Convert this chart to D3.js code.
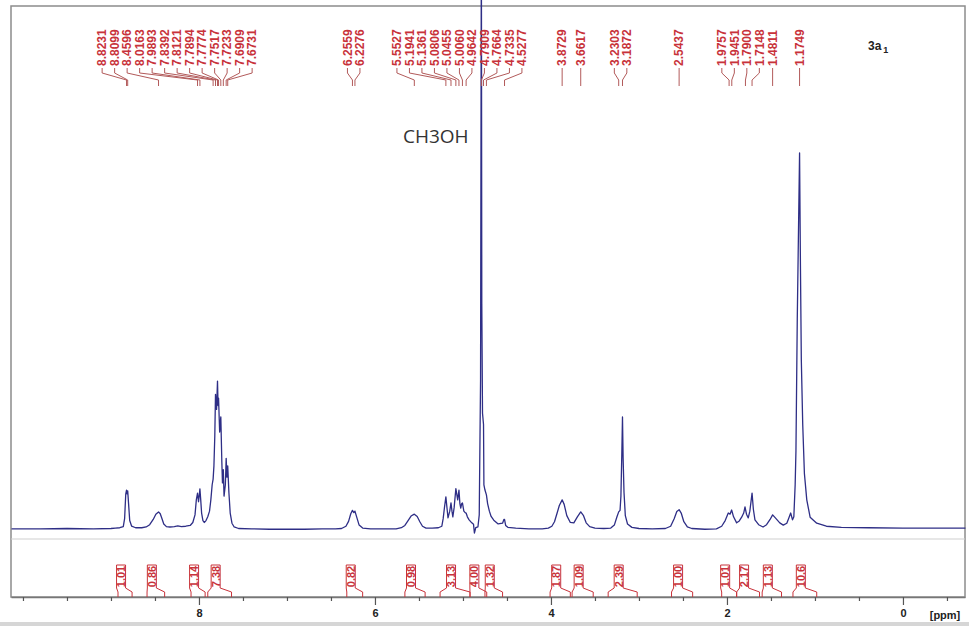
<!DOCTYPE html>
<html><head><meta charset="utf-8">
<script src="https://cdn.jsdelivr.net/npm/d3@7"></script>
<style>body{margin:0;background:#fff}svg{display:block}</style>
</head><body>
<svg id="c" width="969" height="626"></svg>
<script>
// ---- data ----
const shifts = [10.13,9.80,9.50,9.20,9.00,8.95,8.90,8.86,8.845,8.832,8.8231,8.816,8.8099,8.80,8.787,8.765,8.72,8.65,8.60,8.56,8.52,8.49,8.4596,8.44,8.42,8.40,8.37,8.33,8.28,8.24,8.20,8.15,8.10,8.07,8.045,8.03,8.0163,8.005,7.995,7.9893,7.98,7.97,7.955,7.94,7.92,7.90,7.88,7.865,7.85,7.8392,7.83,7.82,7.8121,7.80,7.7894,7.783,7.7774,7.765,7.7517,7.74,7.733,7.7233,7.715,7.70,7.6909,7.682,7.6731,7.66,7.645,7.625,7.60,7.55,7.40,7.20,7.00,6.80,6.60,6.45,6.38,6.33,6.30,6.275,6.2559,6.24,6.2276,6.21,6.18,6.14,6.05,5.90,5.76,5.70,5.66,5.62,5.59,5.5527,5.52,5.49,5.46,5.42,5.35,5.28,5.24,5.225,5.21,5.1941,5.18,5.17,5.15,5.1361,5.125,5.115,5.10,5.0806,5.06,5.0455,5.035,5.025,5.015,5.0060,4.99,4.975,4.9642,4.95,4.93,4.90,4.88,4.87,4.855,4.83,4.815,4.80,4.7909,4.786,4.778,4.7664,4.762,4.75,4.7335,4.72,4.70,4.68,4.65,4.60,4.55,4.535,4.5277,4.515,4.49,4.40,4.25,4.10,4.03,3.99,3.96,3.93,3.905,3.8729,3.85,3.82,3.78,3.74,3.70,3.6617,3.63,3.60,3.56,3.50,3.40,3.32,3.28,3.25,3.2303,3.215,3.205,3.195,3.1872,3.18,3.17,3.155,3.13,3.08,3.00,2.85,2.70,2.64,2.60,2.57,2.5437,2.52,2.49,2.45,2.40,2.25,2.12,2.06,2.02,1.985,1.965,1.947,1.925,1.89,1.86,1.833,1.81,1.795,1.778,1.758,1.74,1.7148,1.70,1.682,1.64,1.59,1.55,1.51,1.4811,1.45,1.40,1.36,1.32,1.30,1.276,1.255,1.24,1.225,1.216,1.201,1.1749,1.165,1.155,1.139,1.12,1.093,1.055,0.98,0.87,0.70,0.40,0.00,-0.40,-0.71];
const intensity = [0.3,0.3,0.4,0.3,0.4,0.5,0.6,0.9,3,9.5,10.6,9.6,10.4,7,2.5,1.0,0.6,0.6,0.8,1.4,2.8,4.2,4.8,4.3,3,1.6,0.9,0.8,0.9,1.1,0.9,1.0,1.2,2.0,4,8,9.8,7.5,9.5,10.9,8,4.5,2.5,2.0,2.5,3.5,5,8,12,13.5,17,25,36,32,39.5,33,35,26,30,18,12.5,16,9,12,19,14,17,10,4.5,1.8,0.8,0.4,0.3,0.2,0.2,0.2,0.3,0.3,0.4,1.0,2.3,4.3,5.2,4.6,5.0,3.6,1.3,0.5,0.3,0.3,0.3,0.6,1.2,2.6,3.7,4.2,3.6,2.2,1.0,0.5,0.5,0.6,1.0,3,6,8.8,5.5,3.2,5,7.2,5,3.5,6,11,8,10.6,7,5.8,7,7.2,5,4.6,4.5,3.5,2.7,1.9,1.5,-0.8,0.6,0.8,4,40,160,60,31,28,12,10.6,9.3,7,5,3.6,2.6,1.6,1.8,2.8,2.8,1.2,0.7,0.5,0.3,0.3,0.5,1.0,2.2,4.5,6.5,8,6.8,3.8,2.0,1.9,3.5,4.8,3.8,1.9,0.9,0.5,0.4,0.5,1.3,3.5,4.8,5.2,9,20,30,19,10,3.8,1.6,0.7,0.4,0.3,0.4,1.0,3.0,4.9,5.4,4.5,2.2,0.8,0.4,0.2,0.3,1.0,2.5,4.5,4.2,5.3,3.5,1.9,2.4,3.4,4.5,6.1,4.2,3.2,5,9.8,5.5,2.7,1.4,0.8,1.4,2.8,4.0,3.2,1.9,1.3,1.8,3.0,4.5,2.7,3.5,12,21,56,100,70,45,28,15,8,3.4,1.8,1.0,0.7,0.6,0.5,0.5,0.5];

const peakLabels = [8.8231,8.8099,8.4596,8.0163,7.9893,7.8392,7.8121,7.7894,7.7774,7.7517,7.7233,7.6909,7.6731,6.2559,6.2276,5.5527,5.1941,5.1361,5.0806,5.0455,5.0060,4.9642,4.7909,4.7664,4.7335,4.5277,3.8729,3.6617,3.2303,3.1872,2.5437,1.9757,1.9451,1.7900,1.7148,1.4811,1.1749];

const integralValues = ["1.01","0.86","1.14","7.38","0.82","0.98","3.13","4.00","1.32","1.87","1.09","2.39","1.00","1.01","2.17","1.13","10.6"];
const integralFrom = [8.92,8.59,8.09,7.90,6.32,5.66,5.26,4.92,4.75,4.01,3.76,3.35,2.63,2.06,1.89,1.60,1.25];
const integralTo   = [8.76,8.39,7.93,7.63,6.14,5.43,4.92,4.73,4.55,3.78,3.52,3.02,2.39,1.89,1.63,1.38,0.98];

const minorTicks = d3.range(20, -2, -1).map(v => v / 2);
const majorTicks = [8, 6, 4, 2, 0];

const sampleName = "3a";
const sampleSub = "1";
const solventNote = "CH3OH";

// ---- drawing ----
const svg = d3.select("#c");
const red = "#c8323a";
const leader = "#b25a5a";
const X0 = 11, X1 = 965, YT = 6, YAXIS = 597, YBASE = 530;

const x = d3.scaleLinear().domain([10.136, -0.705]).range([X0, X1]);
const y = d3.scaleLinear().domain([0, 100]).range([YBASE, 153]);

svg.append("rect").attr("width", 969).attr("height", 626).attr("fill", "#fff");
svg.append("rect").attr("x", 0).attr("y", 622).attr("width", 969).attr("height", 4).attr("fill", "#d6d6d6");

// frame
svg.append("rect").attr("x", X0).attr("y", YT).attr("width", X1 - X0).attr("height", YAXIS - YT)
  .attr("fill", "none").attr("stroke", "#8c8c8c").attr("stroke-width", 1.5);
svg.append("line").attr("x1", X0).attr("x2", X1).attr("y1", 539).attr("y2", 539)
  .attr("stroke", "#cfcfcf").attr("stroke-width", 1);

// axis
const axis = d3.axisBottom(x).tickValues(minorTicks).tickSize(4).tickSizeOuter(0)
  .tickFormat(d => majorTicks.includes(d) ? String(d) : "");
const ag = svg.append("g").attr("transform", `translate(0,${YAXIS})`).call(axis);
ag.select(".domain").attr("stroke", "#777").attr("stroke-width", 1.5);
ag.selectAll(".tick line").attr("stroke", "#555").attr("stroke-width", 1.2)
  .attr("y2", d => majorTicks.includes(d) ? 8 : 4);
ag.selectAll(".tick text").attr("y", 12).attr("font-family", "Liberation Sans, Arial, sans-serif")
  .attr("font-size", 11).attr("font-weight", "bold").attr("fill", "#222");
svg.append("text").attr("x", 945).attr("y", 619).attr("text-anchor", "middle")
  .attr("font-family", "Liberation Sans, Arial, sans-serif").attr("font-size", 11).attr("font-weight", "bold")
  .attr("fill", "#222").text("[ppm]");

// spectrum
const pts = shifts.map((s, i) => ({ppm: s, v: intensity[i]}));
svg.append("path").datum(pts)
  .attr("d", d3.line().x(d => x(d.ppm)).y(d => y(d.v)))
  .attr("fill", "none").attr("stroke", "#2e2e86").attr("stroke-width", 1.3).attr("stroke-linejoin", "round");

// peak labels layout (spread overlapping labels)
const G = 12.5;
let clusters = peakLabels.map(p => ({ideal: [x(p)]}));
function place(c) {
  const lo = d3.min(c.ideal), hi = d3.max(c.ideal), mid = (lo + hi) / 2, n = c.ideal.length;
  c.pos = c.ideal.map((_, i) => mid - (n - 1) / 2 * G + i * G);
}
clusters.forEach(place);
let merged = true;
while (merged) {
  merged = false;
  for (let i = 0; i < clusters.length - 1; i++) {
    const a = clusters[i], b = clusters[i + 1];
    if (b.pos[0] - a.pos[a.pos.length - 1] < G) {
      const c = {ideal: a.ideal.concat(b.ideal)};
      place(c);
      clusters.splice(i, 2, c);
      merged = true;
      break;
    }
  }
}
const labelPos = clusters.flatMap(c => c.pos);

const pl = svg.append("g");
peakLabels.forEach((p, i) => {
  const lx = labelPos[i], px = x(p);
  pl.append("path").attr("d", `M${lx},68 L${lx},73 L${px},80 L${px},86`)
    .attr("fill", "none").attr("stroke", leader).attr("stroke-width", 1);
  pl.append("text").attr("transform", `translate(${lx},66) rotate(-90)`)
    .attr("dy", "0.36em").attr("font-family", "Liberation Sans, Arial, sans-serif")
    .attr("font-size", 12).attr("font-weight", "bold").attr("fill", red)
    .text(p.toFixed(4));
});

// integrals
const ig = svg.append("g");
integralValues.forEach((v, i) => {
  const a = x(integralFrom[i]), b = x(integralTo[i]);
  const c = (a + b) / 2 - 4, h = 4.5;
  ig.append("path")
    .attr("d", `M${a},${YAXIS} L${a},592 L${c - h},588 L${c - h},565 L${c + h},565 L${c + h},588 L${b},592 L${b},${YAXIS}`)
    .attr("fill", "none").attr("stroke", red).attr("stroke-width", 1);
  ig.append("text").attr("transform", `translate(${c},576.5) rotate(-90)`)
    .attr("text-anchor", "middle").attr("dy", "0.36em")
    .attr("font-family", "Liberation Sans, Arial, sans-serif").attr("font-size", 11).attr("font-weight", "bold")
    .attr("fill", red).text(v);
});

// annotations
const t = svg.append("text").attr("x", 868).attr("y", 50)
  .attr("font-family", "Liberation Sans, Arial, sans-serif").attr("font-size", 12).attr("font-weight", "bold").attr("fill", "#222");
t.append("tspan").text(sampleName);
t.append("tspan").attr("dx", 2).attr("dy", 3).attr("font-size", 9).text(sampleSub);

svg.append("text").attr("x", 403).attr("y", 143)
  .attr("font-family", "Open Sans, sans-serif").attr("font-size", 19).attr("fill", "#333").text(solventNote);
</script>
</body></html>
